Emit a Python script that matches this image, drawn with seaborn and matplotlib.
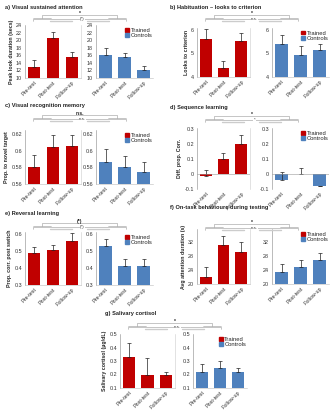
import numpy as np
import pandas as pd
import matplotlib
matplotlib.use("Agg")
import matplotlib.pyplot as plt
import seaborn as sns

sns.set_style("white")
plt.rcParams["font.family"] = ["Liberation Sans", "DejaVu Sans"]

## Data
phases = ["Pre-test", "Post-test", "Follow-up"]

a_tr = [13.0, 20.6, 15.6]
a_tr_err = [1.7, 1.6, 1.2]
a_ct = [16.1, 15.5, 12.2]
a_ct_err = [1.7, 1.1, 1.1]

b_tr = [5.6, 4.4, 5.55]
b_tr_err = [0.42, 0.28, 0.33]
b_ct = [5.4, 4.95, 5.15]
b_ct_err = [0.37, 0.36, 0.27]

c_tr = [0.580, 0.605, 0.606]
c_tr_err = [0.015, 0.014, 0.013]
c_ct = [0.587, 0.580, 0.575]
c_ct_err = [0.015, 0.014, 0.012]

d_tr = [-0.015, 0.10, 0.20]
d_tr_err = [0.045, 0.04, 0.062]
d_ct = [-0.04, 0.002, -0.08]
d_ct_err = [0.055, 0.04, 0.0]

e_tr = [0.49, 0.505, 0.555]
e_tr_err = [0.035, 0.03, 0.05]
e_ct = [0.53, 0.41, 0.41]
e_ct_err = [0.04, 0.04, 0.045]

f_tr = [22.1, 31.2, 29.1]
f_tr_err = [2.8, 2.5, 2.8]
f_ct = [23.4, 24.9, 26.9]
f_ct_err = [2.3, 2.0, 1.9]

g_tr = [0.33, 0.20, 0.195]
g_tr_err = [0.10, 0.12, 0.025]
g_ct = [0.215, 0.25, 0.22]
g_ct_err = [0.06, 0.05, 0.03]

RED = "#C00000"
BLUE = "#4F81BD"
W, H = 335, 416

fig = plt.figure(figsize=(W / 100, H / 100), dpi=100)
fig.patch.set_facecolor("white")


def px_ax(l, t, r, b):
    return fig.add_axes([l / W, 1 - b / H, (r - l) / W, (b - t) / H])


def bars(ax, vals, errs, color, ylim, yticks, zero_line=False):
    df = pd.DataFrame({"phase": phases, "val": vals})
    sns.barplot(data=df, x="phase", y="val", color=color, width=0.66,
                ax=ax, saturation=1, edgecolor="none")
    ax.errorbar(range(3), vals, yerr=[np.zeros(3), errs], fmt="none",
                ecolor="#222222", elinewidth=0.5, capsize=1.3, capthick=0.5)
    ax.set_xlim(-0.5, 2.5)
    ax.set_ylim(*ylim)
    ax.set_yticks(yticks)
    ax.set_yticklabels([f"{t:g}" for t in yticks], fontsize=3.9, color="#333333")
    ax.set_xticks(range(3))
    ax.set_xticklabels(phases, rotation=45, ha="right", rotation_mode="anchor",
                       fontsize=3.9, color="#333333")
    ax.set_xlabel("")
    ax.set_ylabel("")
    ax.tick_params(axis="y", length=1.2, width=0.4, pad=1, color="#888888")
    ax.tick_params(axis="x", length=0, pad=1.5)
    for s in ["top", "right"]:
        ax.spines[s].set_visible(False)
    ax.spines["left"].set_color("#888888")
    ax.spines["left"].set_linewidth(0.4)
    ax.spines["bottom"].set_color("#bbbbbb")
    ax.spines["bottom"].set_linewidth(0.4)
    if zero_line:
        ax.spines["bottom"].set_visible(False)
        ax.axhline(0, color="#999999", lw=0.4)
    ax.set_facecolor("none")


def bracket(L, y1, y2, lab1, lab2):
    # significance brackets above a panel (pixel coords from top-left)
    def ln(xs, ys, **kw):
        fig.add_artist(plt.Line2D([x / W for x in xs], [1 - y / H for y in ys], **kw))
    xa, xb = L + 17, L + 92
    ln([xa, xa, xb, xb], [y1 + 2.5, y1, y1, y1 + 2.5], color="#999999", lw=0.4)
    ln([xa - 9, xa + 9], [y1 + 2.5, y1 + 2.5], color="#999999", lw=0.4)
    ln([xb - 9, xb + 9], [y1 + 2.5, y1 + 2.5], color="#999999", lw=0.4)
    ln([xa - 9, xa - 9, xb + 9, xb + 9], [y2 + 2, y2, y2, y2 + 2], color="#999999", lw=0.4)
    ln([xa + 8, xa + 30], [y2 + 2, y2 + 2], color="#cccccc", lw=1.0)
    ln([xb - 30, xb - 8], [y2 + 2, y2 + 2], color="#cccccc", lw=1.0)
    cx = (xa + xb) / 2
    fig.text(cx / W, 1 - (y1 + 0.6) / H, lab1, fontsize=3.6, ha="center", va="bottom",
             fontweight="bold", color="#222222")
    fig.text((cx + 3) / W, 1 - (y2 + 0.2) / H, lab2, fontsize=3.2, ha="center", va="center",
             color="#333333", bbox=dict(facecolor="white", edgecolor="none", pad=0.2))


def panel(title, tx, ty, ylabel, L1, R1, L2, R2, top, bot, tr, tre, ct, cte,
          ylim, yticks, b1, b2, lab1, lab2, zero_line=False):
    fig.text(tx / W, 1 - ty / H, title, fontsize=4.1, fontweight="bold",
             ha="left", va="center", color="#222222")
    ax1 = px_ax(L1, top, R1, bot)
    bars(ax1, tr, tre, RED, ylim, yticks, zero_line)
    ax1.set_ylabel(ylabel, fontsize=3.8, fontweight="bold", labelpad=1.5)
    ax1.spines["right"].set_visible(True)
    ax1.spines["right"].set_color("#cccccc")
    ax1.spines["right"].set_linewidth(0.4)
    ax2 = px_ax(L2, top, R2, bot)
    bars(ax2, ct, cte, BLUE, ylim, yticks, zero_line)
    h = [plt.Rectangle((0, 0), 1, 1, color=RED), plt.Rectangle((0, 0), 1, 1, color=BLUE)]
    ax2.legend(h, ["Trained", "Controls"], loc="upper right", fontsize=4.2, frameon=False,
               handlelength=0.6, handleheight=0.6, handletextpad=0.3, labelspacing=0.05,
               borderaxespad=0.1, bbox_to_anchor=(1.04, 1.0))
    bracket(L1, b1, b2, lab1, lab2)


panel("a) Visual sustained attention", 5, 7, "Peak look duration (secs)",
      25, 81, 96, 153, 25, 78, a_tr, a_tr_err, a_ct, a_ct_err,
      (10, 24), np.arange(10, 25, 2), 15, 19, "*", "(*)")
panel("b) Habituation \u2013 looks to criterion", 170, 7, "Looks to criterion",
      197, 250, 272, 329, 27.6, 77, b_tr, b_tr_err, b_ct, b_ct_err,
      (4, 6.1), [4, 5, 6], 15, 18.5, "*", "n.s.")
panel("c) Visual recognition memory", 5, 106, "Prop. to novel target",
      25, 81, 96, 153, 130, 184, c_tr, c_tr_err, c_ct, c_ct_err,
      (0.56, 0.625), [0.56, 0.58, 0.6, 0.62], 115, 119, "n.s.", "n.s.")
panel("d) Sequence learning", 170, 107, "Diff. prop. Corr.",
      197, 250, 272, 329, 128, 189, d_tr, d_tr_err, d_ct, d_ct_err,
      (-0.1, 0.31), [-0.1, 0, 0.1, 0.2, 0.3], 116, 119.5, "*", "*", zero_line=True)
panel("e) Reversal learning", 5, 214, "Prop. corr. post switch",
      25, 81, 96, 153, 232, 285, e_tr, e_tr_err, e_ct, e_ct_err,
      (0.3, 0.61), [0.3, 0.4, 0.5, 0.6], 223, 226.5, "(*)", "(*)")
panel("f) On-task behaviours during testing", 170, 207, "Avg attention duration (s)",
      197, 250, 272, 329, 229, 284, f_tr, f_tr_err, f_ct, f_ct_err,
      (20, 35.7), [20, 24, 28, 32], 224, 227.5, "*", "n.s.")
panel("g) Salivary cortisol", 105, 314, "Salivary cortisol (\u00b5g/dL)",
      120, 175, 193, 247, 334, 388, g_tr, g_tr_err, g_ct, g_ct_err,
      (0.1, 0.5), [0.1, 0.2, 0.3, 0.4, 0.5], 323, 327, "*", "n.s.")

fig.savefig("out.png", dpi=100, facecolor="white")
